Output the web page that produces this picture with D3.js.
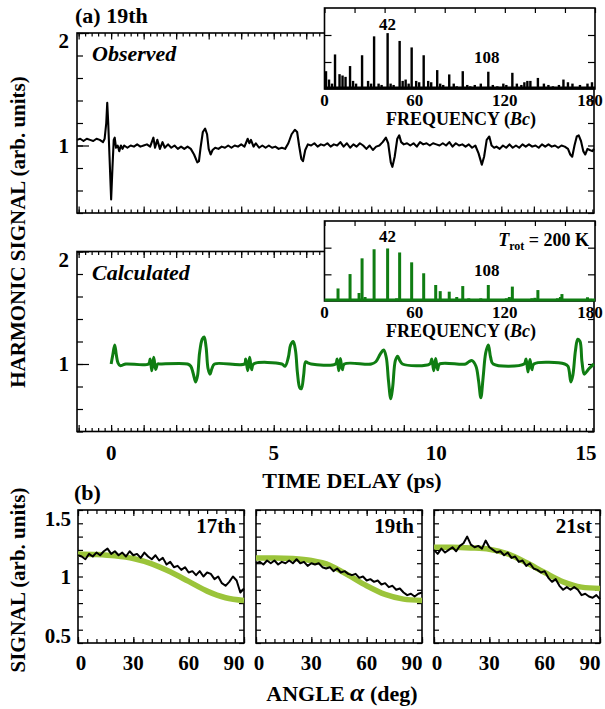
<!DOCTYPE html>
<html>
<head>
<meta charset="utf-8">
<script src="https://cdn.jsdelivr.net/npm/d3@7"></script>
<style>
  body { margin: 0; background: #fff; }
  svg text { font-family: "Liberation Serif", "Times New Roman", serif; font-weight: bold; fill: #000; }
</style>
</head>
<body>
<div id="chart"></div>
<script>
// ---- data ----
var timeTicks = [0, 5, 10, 15];
var signalTicks = [1, 2];
var freqTicks = [0, 60, 120, 180];
var angleTicks = [0, 30, 60, 90];
var angleSignalTicks = [0.5, 1, 1.5];
var harmonics = ["17th", "19th", "21st"];

// observed time trace [ps, signal]
var observed = [
  [-1.05,1.05],[-0.95,1.06],[-0.85,1.04],[-0.75,1.06],[-0.65,1.05],[-0.55,1.04],[-0.45,1.06],[-0.35,1.05],[-0.25,1.03],
  [-0.2,1.06],[-0.15,1.2],[-0.12,1.38],[-0.09,1.2],[-0.05,0.9],[0.0,0.52],[0.04,0.8],[0.08,1.05],[0.11,1.07],[0.15,0.98],
  [0.2,1.0],[0.25,0.95],[0.3,1.0],[0.35,0.97],[0.4,1.0],[0.5,0.98],[0.6,1.0],[0.7,0.99],[0.8,1.01],[0.9,0.99],[1.0,1.0],
  [1.1,1.01],[1.2,0.99],[1.3,1.07],[1.35,0.98],[1.42,1.05],[1.5,0.97],[1.58,1.03],[1.65,0.98],[1.75,1.01],[1.85,0.98],
  [1.95,1.0],[2.05,0.97],[2.15,0.99],[2.25,0.97],[2.35,0.99],[2.45,0.97],[2.55,0.92],[2.65,0.85],[2.7,0.86],[2.75,0.98],
  [2.82,1.12],[2.89,1.15],[2.95,1.1],[3.0,0.97],[3.06,0.92],[3.12,0.96],[3.2,0.98],[3.3,0.97],[3.4,0.99],[3.5,0.98],
  [3.6,1.0],[3.7,0.98],[3.8,1.0],[3.9,0.99],[4.0,1.01],[4.1,0.99],[4.2,1.06],[4.25,1.02],[4.3,1.05],[4.38,0.99],
  [4.45,1.02],[4.55,0.98],[4.65,1.0],[4.75,0.98],[4.85,1.0],[4.95,0.98],[5.05,0.99],[5.15,0.97],[5.25,0.98],[5.35,0.97],
  [5.45,1.02],[5.55,1.1],[5.65,1.14],[5.72,1.12],[5.78,1.0],[5.85,0.88],[5.9,0.86],[5.97,0.96],[6.05,1.01],[6.15,1.0],
  [6.25,1.02],[6.35,0.99],[6.45,1.01],[6.55,1.0],[6.65,1.02],[6.75,0.99],[6.85,1.01],[6.95,1.0],[7.05,1.03],[7.15,0.99],
  [7.25,1.02],[7.35,0.98],[7.45,1.01],[7.55,0.99],[7.65,1.02],[7.75,1.0],[7.85,0.97],[7.95,1.0],[8.05,0.96],[8.15,0.99],
  [8.25,1.0],[8.35,1.03],[8.45,1.07],[8.52,1.02],[8.6,0.85],[8.65,0.81],[8.72,0.9],[8.8,1.06],[8.86,1.09],[8.92,1.03],
  [9.0,1.01],[9.1,1.02],[9.2,1.0],[9.3,1.02],[9.4,0.99],[9.5,1.03],[9.6,1.01],[9.7,1.02],[9.8,1.0],[9.9,1.02],
  [10.0,1.01],[10.1,1.0],[10.2,1.02],[10.3,1.0],[10.4,1.03],[10.5,0.99],[10.6,1.02],[10.7,1.0],[10.8,1.01],[10.9,0.99],
  [11.0,1.01],[11.1,0.98],[11.2,1.0],[11.3,0.93],[11.4,0.83],[11.47,0.9],[11.55,1.05],[11.63,1.08],[11.7,1.0],[11.78,0.98],
  [11.85,0.99],[11.95,0.97],[12.05,1.0],[12.15,0.98],[12.25,1.01],[12.35,0.98],[12.45,1.0],[12.55,0.98],[12.65,1.01],[12.75,0.99],
  [12.85,1.01],[12.95,0.99],[13.05,1.0],[13.15,0.98],[13.25,1.01],[13.35,0.99],[13.45,1.01],[13.55,0.99],[13.65,1.0],[13.75,0.98],
  [13.85,1.0],[13.95,0.99],[14.05,0.97],[14.12,0.92],[14.18,0.9],[14.25,1.0],[14.32,1.08],[14.38,1.09],[14.45,1.04],[14.52,0.95],
  [14.58,0.92],[14.65,0.97],[14.72,0.96],[14.8,0.95],[14.85,0.97]
];

// calculated time trace [ps, signal]
var calculated = [
  [0,1.0],[0.05,1.08],[0.11,1.17],[0.16,1.08],[0.21,1.01],[0.28,0.985],[0.35,0.99],[0.45,1.0],
  [1.15,1.0],[1.2,1.045],[1.25,0.94],[1.31,1.06],[1.37,0.95],[1.43,1.0],[1.5,1.0],
  [2.35,1.0],[2.45,0.98],[2.52,0.92],[2.6,0.84],[2.66,0.9],[2.72,1.1],[2.8,1.22],[2.86,1.24],[2.92,1.15],[2.98,0.96],[3.04,0.91],[3.1,0.96],[3.18,1.0],
  [4.1,1.0],[4.14,1.045],[4.2,0.94],[4.26,1.06],[4.32,0.95],[4.38,1.0],
  [5.25,1.0],[5.35,0.98],[5.45,1.06],[5.52,1.17],[5.6,1.2],[5.67,1.12],[5.73,0.92],[5.8,0.79],[5.85,0.78],[5.92,0.9],[5.98,1.02],[6.05,1.01],[6.15,1.0],
  [6.9,1.0],[6.95,1.045],[7.0,0.94],[7.05,1.05],[7.11,0.95],[7.17,1.0],
  [8.0,1.0],[8.14,1.02],[8.28,1.09],[8.38,1.124],[8.46,1.06],[8.53,0.85],[8.6,0.69],[8.66,0.8],[8.74,1.03],[8.81,1.07],[8.88,1.03],[8.96,1.0],
  [9.8,1.0],[9.86,1.045],[9.92,0.94],[9.98,1.05],[10.04,0.95],[10.1,1.0],
  [10.9,1.0],[11.0,1.02],[11.1,1.03],[11.22,0.98],[11.3,0.85],[11.37,0.7],[11.44,0.88],[11.52,1.1],[11.6,1.17],[11.67,1.06],[11.75,1.0],
  [12.7,1.0],[12.76,1.045],[12.82,0.93],[12.88,1.04],[12.94,0.95],[13.0,1.0],
  [13.95,1.0],[14.05,0.98],[14.14,0.84],[14.2,0.9],[14.28,1.12],[14.35,1.22],[14.42,1.2],[14.48,1.02],[14.55,0.91],[14.62,0.93],[14.7,0.96],[14.85,1.0]
];

// Fourier spectra [frequency (Bc), amplitude]
var observedSpectrum = [
  [1,0.66],[7,1.28],[17,0.85],[25,1.25],[33,1.95],[42,2.07],[50,1.78],[58,1.54],[66,1.25],[75,0.7],[83,0.54],[92,0.66],
  [109,0.64],[125,0.6],[142,0.41],[159,0.35],
  [3,0.35],[5,0.2],[10,0.55],[12,0.5],[14,0.45],[19,0.3],[21,0.2],[29,0.3],[31,0.2],[36,0.2],[38,0.15],[44,0.2],[46,0.15],
  [52,0.3],[54,0.35],[56,0.2],[61,0.3],[63,0.25],[69,0.3],[71,0.25],[77,0.2],[79,0.15],[86,0.2],[88,0.1],[95,0.15],[97,0.1],
  [100,0.15],[104,0.2],[112,0.15],[115,0.1],[119,0.2],[121,0.15],[128,0.2],[131,0.15],[133,0.25],[135,0.3],[137,0.3],
  [146,0.2],[149,0.15],[152,0.1],[156,0.15],[162,0.25],[165,0.2],[170,0.15],[175,0.2],[178,0.25]
];
var calculatedSpectrum = [
  [9,0.47],[17,1.01],[25,1.6],[33,1.94],[42,1.97],[50,1.82],[58,1.45],[66,1.04],[74,0.6],[77,0.37],[83,0.35],[92,0.56],
  [109,0.6],[125,0.54],[142,0.41],[158,0.26],[175,0.14],
  [23,0.3],[27,0.15],[48,0.1],[88,0.15],[96,0.1],[104,0.1],[121,0.1],[123,0.15],[138,0.1],[140,0.12],[155,0.1],[157,0.15],[177,0.08]
];

// angle dependence, panel (b)
var angleGrid = [0,2,4,6,8,10,12,14,16,18,20,22,24,26,28,30,32,34,36,38,40,42,44,46,48,50,52,54,56,58,60,62,64,66,68,70,72,74,76,78,80,82,84,86,88,90];
var measured17 = [1.16,1.15,1.13,1.17,1.15,1.18,1.16,1.19,1.21,1.17,1.19,1.16,1.18,1.15,1.19,1.16,1.17,1.14,1.18,1.15,1.13,1.16,1.12,1.14,1.09,1.11,1.07,1.08,1.05,1.07,1.03,1.04,1.01,1.04,1.0,1.03,1.02,0.98,1.0,0.95,0.93,0.96,1.0,0.97,0.88,0.91];
var measured19 = [1.1,1.11,1.09,1.12,1.1,1.12,1.09,1.11,1.1,1.12,1.1,1.13,1.1,1.11,1.08,1.1,1.09,1.1,1.07,1.06,1.07,1.04,1.06,1.03,1.04,1.02,1.01,1.02,0.99,1.0,0.97,0.98,0.96,0.97,0.94,0.95,0.92,0.93,0.9,0.91,0.88,0.86,0.87,0.85,0.87,0.88];
var measured21 = [1.2,1.17,1.21,1.18,1.2,1.22,1.19,1.23,1.25,1.3,1.24,1.22,1.23,1.21,1.27,1.22,1.2,1.18,1.19,1.16,1.18,1.14,1.15,1.11,1.12,1.08,1.1,1.06,1.05,1.03,1.04,0.99,0.96,0.98,0.93,0.9,0.92,0.9,0.92,0.9,0.86,0.87,0.85,0.84,0.86,0.83];
var fitGrid = [0,10,20,30,40,50,60,70,80,90];
var fit17 = [1.17,1.165,1.155,1.135,1.095,1.035,0.963,0.89,0.84,0.82];
var fit19 = [1.14,1.14,1.135,1.12,1.085,1.01,0.93,0.865,0.83,0.82];
var fit21 = [1.22,1.22,1.215,1.205,1.17,1.105,1.03,0.96,0.92,0.91];

// ---- drawing ----
var W = 605, H = 709;
var GREEN = "#0f7d12", LIGHT = "#9bc43a";

var svg = d3.select("#chart").append("svg").attr("width", W).attr("height", H);

// draw a box with inward ticks on chosen sides
function frame(g, x, y, o) {
  var L = x.range()[0], R = x.range()[1], B = y.range()[0], T = y.range()[1];
  if (o.fill) g.append("rect").attr("x", L).attr("y", T).attr("width", R - L).attr("height", B - T).attr("fill", "#fff");
  function ax(fn, scale, vals, size, tx, ty) {
    if (!vals || !size) return;
    g.append("g").attr("transform", "translate(" + tx + "," + ty + ")")
      .call(fn(scale).tickValues(vals).tickSize(-size).tickFormat(""))
      .call(function (a) { a.select(".domain").remove(); a.selectAll("line").attr("stroke-width", 1.2); });
  }
  ax(d3.axisBottom, x, o.xMinor, o.xMinorLen, 0, B);
  ax(d3.axisBottom, x, o.xMajor, o.xMajorLen, 0, B);
  ax(d3.axisTop, x, o.xMinorTop || o.xMinor, o.xMinorLen, 0, T);
  ax(d3.axisTop, x, o.xMajor, o.xMajorLen, 0, T);
  ax(d3.axisLeft, y, o.yMinor, o.yMinorLen, L, 0);
  ax(d3.axisLeft, y, o.yMajor, o.yMajorLen, L, 0);
  ax(d3.axisRight, y, o.yMinorRight || o.yMinor, o.yRightLen || o.yMinorLen, R, 0);
  g.append("rect").attr("x", L).attr("y", T).attr("width", R - L).attr("height", B - T)
    .attr("fill", "none").attr("stroke", "#000").attr("stroke-width", 1.6);
}

function fix(v) { return Math.round(v * 1000) / 1000; }

// ---------- panel (a) ----------
var xT = d3.scaleLinear().domain([-1.05, 14.85]).range([77, 594]);
var yObs = d3.scaleLinear().domain([0.4, 2.0]).range([213, 33]);
var yCal = d3.scaleLinear().domain([0.4, 2.0]).range([431.5, 251.5]);

var tMinor = d3.range(-1, 14.9, 0.2).map(fix);
var tMajor = d3.range(-1, 15, 1);
var sMinor = d3.range(0.4, 2.01, 0.2).map(fix);

[[yObs, observed, "#000", 2.1, "Observed", d3.curveLinear],
 [yCal, calculated, GREEN, 3, "Calculated", d3.curveCatmullRom.alpha(0.5)]].forEach(function (p) {
  var y = p[0];
  var g = svg.append("g");
  frame(g, xT, y, { xMinor: tMinor, xMinorLen: 3.5, xMajor: tMajor, xMajorLen: 6.5,
    yMinor: sMinor, yMinorLen: 6, yMajor: signalTicks, yMajorLen: 12 });
  g.append("path").datum(p[1])
    .attr("d", d3.line().x(function (d) { return xT(d[0]); }).y(function (d) { return y(d[1]); }).curve(p[5]))
    .attr("fill", "none").attr("stroke", p[2]).attr("stroke-width", p[3]).attr("stroke-linejoin", "round");
  g.selectAll(null).data(signalTicks).enter().append("text")
    .attr("x", 69).attr("y", function (d) { return y(d) + 7 + (d === 2 ? 8 : 0); })
    .attr("text-anchor", "end").style("font-size", "21px").text(function (d) { return d; });
  g.append("text").attr("x", 92).attr("y", y(1.75)).style("font-size", "22px").style("font-style", "italic").text(p[4]);
});

svg.selectAll(null).data(timeTicks).enter().append("text")
  .attr("x", function (d) { return Math.min(xT(d), 594 - 8); }).attr("y", 460)
  .attr("text-anchor", "middle").style("font-size", "21px").text(function (d) { return d; });

svg.append("text").attr("x", 75).attr("y", 23).style("font-size", "22px").text("(a) 19th");
svg.append("text").attr("x", 352).attr("y", 488).attr("text-anchor", "middle").style("font-size", "22px").text("TIME DELAY (ps)");
svg.append("text").attr("transform", "translate(25,232) rotate(-90)").attr("text-anchor", "middle")
  .style("font-size", "21px").text("HARMONIC SIGNAL (arb. units)");

// ---------- insets ----------
var xF = d3.scaleLinear().domain([0, 180]).range([324.5, 595]);
var fMinor = d3.range(0, 181, 20);
[[d3.scaleLinear().domain([0, 3]).range([89, 8]), observedSpectrum, "#000", false, 2.4],
 [d3.scaleLinear().domain([0, 3]).range([301, 221]), calculatedSpectrum, GREEN, true, 3]].forEach(function (p) {
  var y = p[0], g = svg.append("g");
  frame(g, xF, y, { fill: true, xMinorTop: fMinor, xMinorLen: 5, yMinor: [1, 2], yMinorLen: 7 });
  g.append("line").attr("x1", xF(0)).attr("x2", xF(180)).attr("y1", y(0.04)).attr("y2", y(0.04))
    .attr("stroke", p[2]).attr("stroke-width", 3);
  g.selectAll(null).data(p[1]).enter().append("rect")
    .attr("x", function (d) { return xF(d[0]) - p[4] / 2; }).attr("width", p[4])
    .attr("y", function (d) { return y(d[1]); }).attr("height", function (d) { return y(0) - y(d[1]); })
    .attr("fill", p[2]);
  var b = y.range()[0];
  g.selectAll(null).data(freqTicks).enter().append("text")
    .attr("x", function (d) { return Math.min(xF(d), 590); }).attr("y", b + 17).attr("text-anchor", "middle")
    .style("font-size", "17px").text(function (d) { return d; });
  var f = g.append("text").attr("x", 461).attr("y", b + 36).attr("text-anchor", "middle").style("font-size", "18px");
  f.append("tspan").text("FREQUENCY (");
  f.append("tspan").style("font-style", "italic").text("Bc");
  f.append("tspan").text(")");
  g.append("text").attr("x", xF(42)).attr("y", y(2.2)).attr("text-anchor", "middle").style("font-size", "17px").text("42");
  g.append("text").attr("x", xF(108)).attr("y", y(0.95)).attr("text-anchor", "middle").style("font-size", "17px").text("108");
  if (p[3]) {
    var t = g.append("text").attr("x", 589).attr("y", y(2.05)).attr("text-anchor", "end").style("font-size", "18px");
    t.append("tspan").style("font-style", "italic").text("T");
    t.append("tspan").attr("dy", 4).style("font-size", "12px").text("rot");
    t.append("tspan").attr("dy", -4).text(" = 200 K");
  }
});

// ---------- panel (b) ----------
var yA = d3.scaleLinear().domain([0.5, 1.5]).range([643, 510]);
var lefts = [78, 256, 434];
var measured = [measured17, measured19, measured21];
var fits = [fit17, fit19, fit21];
harmonics.forEach(function (h, i) {
  var x = d3.scaleLinear().domain([0, 90]).range([lefts[i], lefts[i] + 166]);
  var g = svg.append("g");
  frame(g, x, yA, { xMinor: d3.range(0, 91, 5), xMinorLen: 4, xMajor: angleTicks, xMajorLen: 6,
    yMinor: d3.range(0.5, 1.51, 0.1).map(fix), yMinorLen: 5 });
  var line = d3.line().x(function (d) { return x(d[0]); }).y(function (d) { return yA(d[1]); });
  g.append("path").datum(fitGrid.map(function (a, k) { return [a, fits[i][k]]; }))
    .attr("d", line.curve(d3.curveMonotoneX)).attr("fill", "none").attr("stroke", LIGHT).attr("stroke-width", 5.5);
  g.append("path").datum(angleGrid.map(function (a, k) { return [a, measured[i][k]]; }))
    .attr("d", line.curve(d3.curveLinear)).attr("fill", "none").attr("stroke", "#000").attr("stroke-width", 2).attr("stroke-linejoin", "round");
  g.append("text").attr("x", x(90) - 8).attr("y", yA(1.33)).attr("text-anchor", "end").style("font-size", "21px").text(h);
  g.selectAll(null).data(angleTicks).enter().append("text")
    .attr("x", function (d) { return x(d) + (d === 0 ? 3 : d === 90 ? -10 : 0); }).attr("y", 670)
    .attr("text-anchor", "middle").style("font-size", "21px").text(function (d) { return d; });
});
svg.selectAll(null).data(angleSignalTicks).enter().append("text")
  .attr("x", 71).attr("y", function (d) { return yA(d) + 7 + (d === 1.5 ? 9 : d === 0.5 ? -7 : 0); })
  .attr("text-anchor", "end").style("font-size", "21px").text(function (d) { return d; });

svg.append("text").attr("x", 74).attr("y", 500).style("font-size", "22px").text("(b)");
var al = svg.append("text").attr("x", 342).attr("y", 701).attr("text-anchor", "middle").style("font-size", "22px");
al.append("tspan").text("ANGLE ");
al.append("tspan").style("font-style", "italic").style("font-size", "26px").text("α");
al.append("tspan").text(" (deg)");
svg.append("text").attr("transform", "translate(25,580) rotate(-90)").attr("text-anchor", "middle")
  .style("font-size", "21px").text("SIGNAL (arb. units)");
</script>
</body>
</html>
